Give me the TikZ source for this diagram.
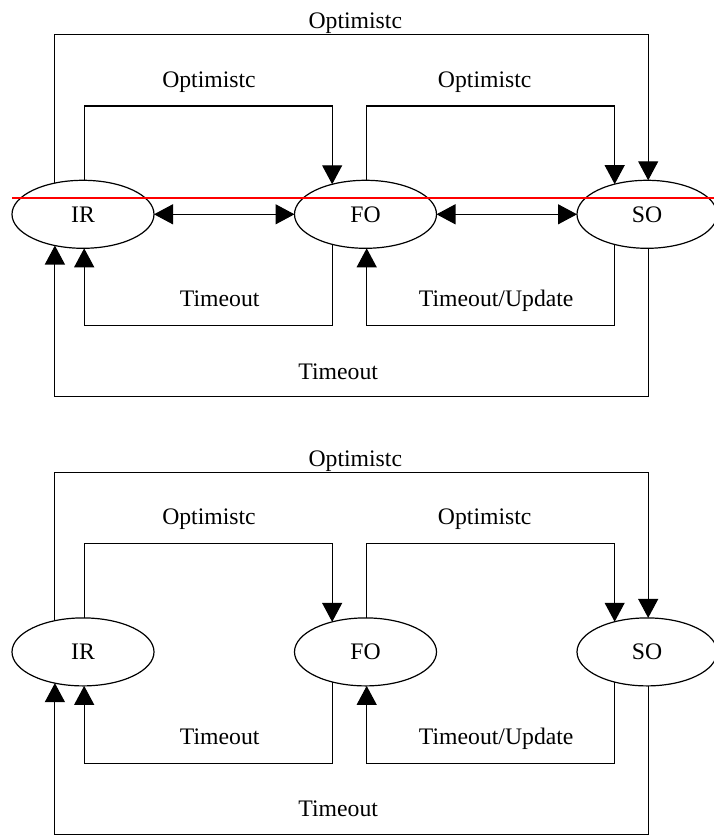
\documentclass[tikz,border=0pt]{standalone}
\usepackage{fontspec}
\setmainfont{Liberation Serif}
\usetikzlibrary{arrows.meta,shapes.geometric}
\begin{document}
\begin{tikzpicture}[x=1pt,y=-1pt,
  txt/.style={font=\fontsize{23.7}{28}\selectfont},
  state/.style={draw, ellipse, txt, line width=1.2pt, minimum width=142pt,
    minimum height=68pt, inner sep=0pt, outer sep=0pt},
  wire/.style={draw, line width=1.2pt},
  arr/.style={wire, -{Triangle[length=19pt,width=20pt]}},
  darr/.style={wire, {Triangle[length=19pt,width=20pt]}-{Triangle[length=19pt,width=20pt]}},
  lbl/.style={txt, anchor=base, inner sep=0pt}]
\useasboundingbox (0,0) rectangle (714,840);

% two copies of the state diagram, one above the other
\foreach \p/\dy in {a/0, b/437.6}{
  \begin{scope}[yshift=-\dy pt]
    \node[state] (IR\p) at (83,214.3) {IR};
    \node[state] (FO\p) at (365.5,214.3) {FO};
    \node[state, minimum width=140pt] (SO\p) at (647,214.3) {SO};

    % routing levels of the wires
    \coordinate (ot\p) at (0,34.5);
    \coordinate (it\p) at (0,106);
    \coordinate (ib\p) at (0,325.7);
    \coordinate (ob\p) at (0,396.7);

    % optimistic transitions (above)
    \draw[arr] (IR\p.132) -- (IR\p.132 |- ot\p) -| (SO\p.88);
    \draw[arr] (IR\p.88) -- (IR\p.88 |- it\p) -| (FO\p.138);
    \draw[arr] (FO\p.88) -- (FO\p.88 |- it\p) -| (SO\p.137);

    % timeout transitions (below)
    \draw[arr] (FO\p.222) -- (FO\p.222 |- ib\p) -| (IR\p.272);
    \draw[arr] (SO\p.223) -- (SO\p.223 |- ib\p) -| (FO\p.272);
    \draw[arr] (SO\p.272) -- (SO\p.272 |- ob\p) -| (IR\p.228);

    % labels
    \node[lbl] (lot\p) at (355.3,29) {Optimistc};
    \node[lbl] (lit1\p) at (209,87.3) {Optimistc};
    \node[lbl] (lit2\p) at (484.7,87.3) {Optimistc};
    \node[lbl] (lib1\p) at (219.7,306.7) {Timeout};
    \node[lbl] (lib2\p) at (496.2,306.7) {Timeout/Update};
    \node[lbl] (lob\p) at (338.2,379.3) {Timeout};
  \end{scope}
}

% direct links, upper diagram only
\draw[darr] (IRa.east) -- (FOa.west);
\draw[darr] (FOa.east) -- (SOa.west);

% red marker line across the upper diagram
\coordinate (redL) at (12,198);
\coordinate (redR) at (714,198);
\draw[red, line width=1.2pt] (redL) -- (redR);
\end{tikzpicture}
\end{document}
